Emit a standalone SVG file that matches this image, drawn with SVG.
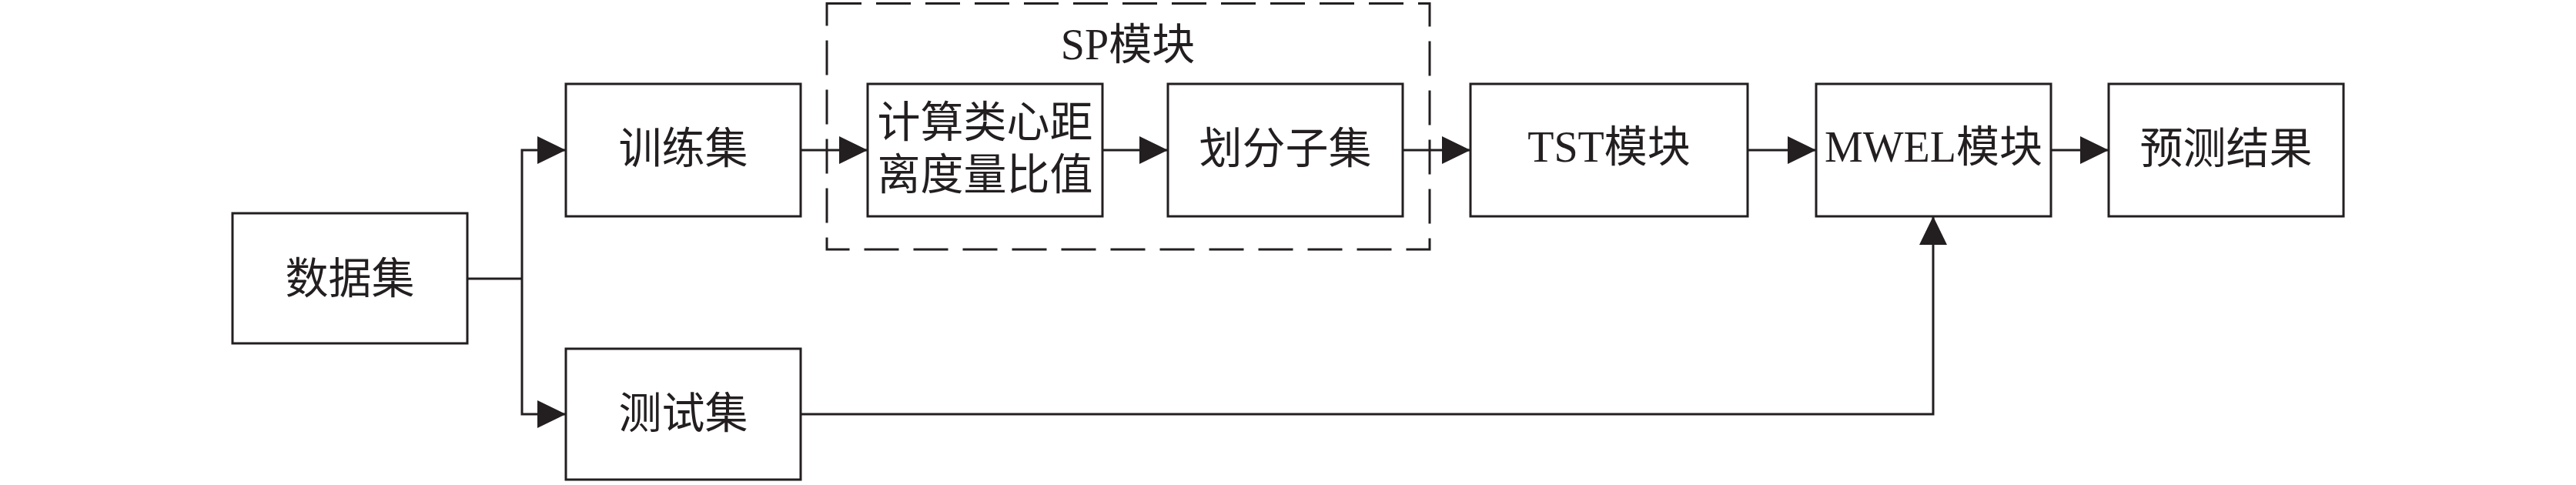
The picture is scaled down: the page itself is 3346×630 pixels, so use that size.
<svg xmlns="http://www.w3.org/2000/svg" width="3346" height="630" viewBox="0 0 3346 630">
<style>
  .box { fill: #ffffff; stroke: #231f20; stroke-width: 3; }
  .dash { fill: none; stroke: #231f20; stroke-width: 3; stroke-dasharray: 45 19; }
  .conn { fill: none; stroke: #231f20; stroke-width: 3; marker-end: url(#arrow); }
  .plain { fill: none; stroke: #231f20; stroke-width: 3; }
  .lbl { font-family: "Liberation Serif", "Noto Sans CJK SC", serif; font-size: 56px; fill: #231f20; text-anchor: middle; }
</style>
<defs>
  <marker id="arrow" markerUnits="userSpaceOnUse" markerWidth="37" markerHeight="36" refX="37" refY="18" orient="auto" viewBox="0 0 37 36">
    <path d="M0,0 L37,18 L0,36 Z" fill="#231f20"/>
  </marker>
</defs>
<rect width="3346" height="630" fill="#ffffff"/>

<g id="sp-module">
  <rect class="dash" x="1074" y="4.5" width="783" height="319.5"/>
  <text class="lbl" x="1465" y="77">SP模块</text>
</g>

<g id="connectors">
  <path class="plain" d="M607,362 H678"/>
  <path class="conn" d="M678,362 V195 H735"/>
  <path class="conn" d="M678,362 V538 H735"/>
  <path class="conn" d="M1040,195 H1127"/>
  <path class="conn" d="M1432,195 H1517"/>
  <path class="conn" d="M1822,195 H1910"/>
  <path class="conn" d="M2270,195 H2359"/>
  <path class="conn" d="M2664,195 H2739"/>
  <path class="conn" d="M1040,538 H2511 V281"/>
</g>

<g id="node-dataset">
  <rect class="box" x="302" y="277" width="305" height="169"/>
  <text class="lbl" x="454.5" y="381">数据集</text>
</g>
<g id="node-train">
  <rect class="box" x="735" y="109" width="305" height="172"/>
  <text class="lbl" x="887.5" y="212">训练集</text>
</g>
<g id="node-test">
  <rect class="box" x="735" y="453" width="305" height="170"/>
  <text class="lbl" x="887.5" y="556">测试集</text>
</g>
<g id="node-ratio">
  <rect class="box" x="1127" y="109" width="305" height="172"/>
  <text class="lbl" x="1279.5" y="178">计算类心距</text>
  <text class="lbl" x="1279.5" y="246">离度量比值</text>
</g>
<g id="node-subset">
  <rect class="box" x="1517" y="109" width="305" height="172"/>
  <text class="lbl" x="1669.5" y="212">划分子集</text>
</g>
<g id="node-tst">
  <rect class="box" x="1910" y="109" width="360" height="172"/>
  <text class="lbl" x="2090" y="210">TST模块</text>
</g>
<g id="node-mwel">
  <rect class="box" x="2359" y="109" width="305" height="172"/>
  <text class="lbl" x="2511.5" y="210">MWEL模块</text>
</g>
<g id="node-result">
  <rect class="box" x="2739" y="109" width="305" height="172"/>
  <text class="lbl" x="2891.5" y="212">预测结果</text>
</g>
</svg>
